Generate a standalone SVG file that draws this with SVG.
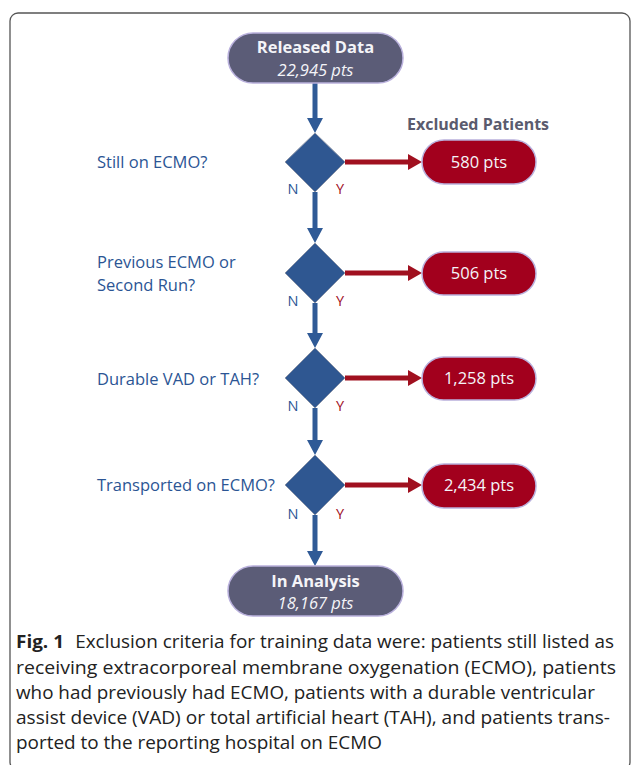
<svg xmlns="http://www.w3.org/2000/svg" width="632" height="765" viewBox="0 0 632 765">
<defs>
<style>
.frame{fill:none;stroke:#555;stroke-width:1.3}
.pillG{fill:#5b5c77;stroke:#b9b0dc;stroke-width:1.5}
.pillR{fill:#a2001d;stroke:#b9b0dc;stroke-width:1.5}
.dia{fill:#2f5791;stroke:#8a94a8;stroke-width:1}
.lnB{stroke:#2f5a96;stroke-width:5;fill:none}
.lnR{stroke:#a0101f;stroke-width:5;fill:none}
.t{font-family:"Open Sans","Liberation Sans",sans-serif}
.pt{fill:#f4f4f8;font-size:16.5px;text-anchor:middle}
.b{font-weight:bold}
.i{font-style:italic}
.q{fill:#2b5594;font-size:16.5px}
.n{fill:#2b5594;font-size:14.5px;text-anchor:middle}
.y{fill:#a0101f;font-size:14.5px;text-anchor:middle}
.ex{fill:#5a5b6e;font-size:16px;font-weight:bold;text-anchor:middle}
.cap{fill:#222;font-size:18px}
</style>
<marker id="aB" markerUnits="userSpaceOnUse" viewBox="0 0 15 16" refX="0" refY="8" markerWidth="15" markerHeight="16" orient="auto"><path d="M0,0 L15,8 L0,16 z" fill="#2f5a96"/></marker>
<marker id="aR" markerUnits="userSpaceOnUse" viewBox="0 0 14 16" refX="0" refY="8" markerWidth="14" markerHeight="16" orient="auto"><path d="M0,0 L14,8 L0,16 z" fill="#a0101f"/></marker>
</defs>
<rect class="frame" x="10" y="13" width="620" height="757" rx="8"/>
<g id="connectors">
<line class="lnB" x1="315" y1="83" x2="315" y2="118" marker-end="url(#aB)"/>
<line class="lnB" x1="315" y1="192" x2="315" y2="228" marker-end="url(#aB)"/>
<line class="lnB" x1="315" y1="303" x2="315" y2="333" marker-end="url(#aB)"/>
<line class="lnB" x1="315" y1="408" x2="315" y2="440" marker-end="url(#aB)"/>
<line class="lnB" x1="315" y1="515" x2="315" y2="551" marker-end="url(#aB)"/>
<line class="lnR" x1="345" y1="162" x2="408" y2="162" marker-end="url(#aR)"/>
<line class="lnR" x1="345" y1="273" x2="408" y2="273" marker-end="url(#aR)"/>
<line class="lnR" x1="345" y1="378" x2="408" y2="378" marker-end="url(#aR)"/>
<line class="lnR" x1="345" y1="485" x2="408" y2="485" marker-end="url(#aR)"/>
</g>
<g id="released">
<rect class="pillG" x="228" y="33" width="175" height="50" rx="25"/>
<text class="t pt b" x="315.5" y="53">Released Data</text>
<text class="t pt i" x="315.5" y="76">22,945 pts</text>
</g>
<g id="excluded-title"><text class="t ex" x="478" y="130">Excluded Patients</text></g>
<g id="d1">
<polygon class="dia" points="315,133 345,162 315,192 285,162"/>
<text class="t q" x="97" y="168">Still on ECMO?</text>
<text class="t n" x="293" y="194">N</text>
<text class="t y" x="340" y="194">Y</text>
</g>
<g id="e1">
<rect class="pillR" x="422" y="140" width="114" height="44" rx="22"/>
<text class="t pt" x="479" y="168">580 pts</text>
</g>
<g id="d2">
<polygon class="dia" points="315,243 345,273 315,303 285,273"/>
<text class="t q" x="97" y="268">Previous ECMO or</text>
<text class="t q" x="97" y="291">Second Run?</text>
<text class="t n" x="293" y="306">N</text>
<text class="t y" x="340" y="306">Y</text>
</g>
<g id="e2">
<rect class="pillR" x="422" y="252" width="114" height="43" rx="21.5"/>
<text class="t pt" x="479" y="279">506 pts</text>
</g>
<g id="d3">
<polygon class="dia" points="315,348 345,378 315,408 285,378"/>
<text class="t q" x="97" y="385">Durable VAD or TAH?</text>
<text class="t n" x="293" y="411">N</text>
<text class="t y" x="340" y="411">Y</text>
</g>
<g id="e3">
<rect class="pillR" x="422" y="357" width="114" height="43" rx="21.5"/>
<text class="t pt" x="479" y="384">1,258 pts</text>
</g>
<g id="d4">
<polygon class="dia" points="315,455 345,485 315,515 285,485"/>
<text class="t q" x="97" y="491">Transported on ECMO?</text>
<text class="t n" x="293" y="519">N</text>
<text class="t y" x="340" y="519">Y</text>
</g>
<g id="e4">
<rect class="pillR" x="422" y="464" width="114" height="44" rx="22"/>
<text class="t pt" x="479" y="491">2,434 pts</text>
</g>
<g id="analysis">
<rect class="pillG" x="228" y="566" width="175" height="50" rx="25"/>
<text class="t pt b" x="315.5" y="587">In Analysis</text>
<text class="t pt i" x="315.5" y="609">18,167 pts</text>
</g>
<g id="caption">
<text class="t cap" x="16" y="648" textLength="598" lengthAdjust="spacingAndGlyphs"><tspan font-weight="bold">Fig. 1</tspan><tspan dx="6"> Exclusion criteria for training data were: patients still listed as</tspan></text>
<text class="t cap" x="16" y="674" textLength="600" lengthAdjust="spacingAndGlyphs">receiving extracorporeal membrane oxygenation (ECMO), patients</text>
<text class="t cap" x="16" y="699" textLength="579" lengthAdjust="spacingAndGlyphs">who had previously had ECMO, patients with a durable ventricular</text>
<text class="t cap" x="16" y="724" textLength="594" lengthAdjust="spacingAndGlyphs">assist device (VAD) or total artificial heart (TAH), and patients trans-</text>
<text class="t cap" x="16" y="749" textLength="366" lengthAdjust="spacingAndGlyphs">ported to the reporting hospital on ECMO</text>
</g>
</svg>
